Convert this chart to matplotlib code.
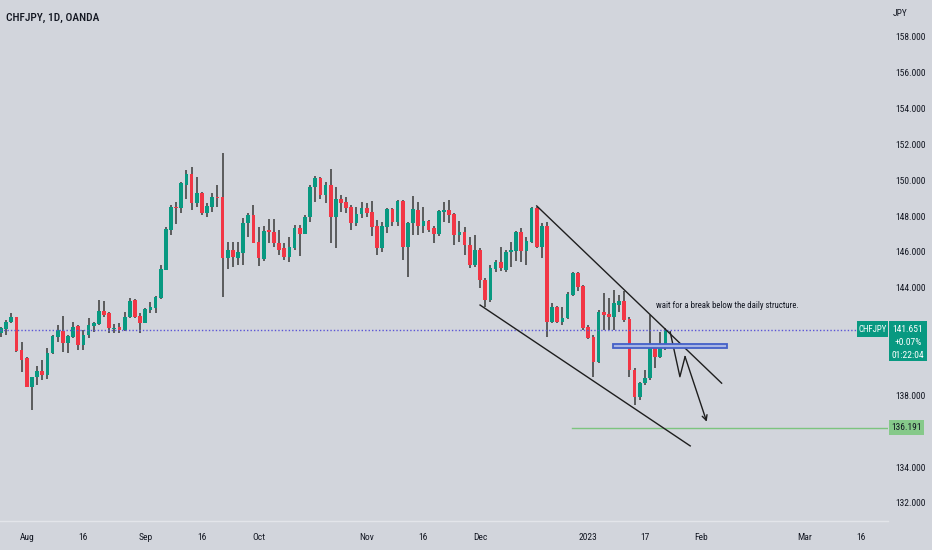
import numpy as np
import pandas as pd
import matplotlib
matplotlib.use("Agg")
import matplotlib.pyplot as plt
from matplotlib import font_manager
from matplotlib.patches import Rectangle

# the chart uses a narrow sans; take the narrowest one that is installed
fonts = font_manager.fontManager.ttflist
names = {f.name for f in fonts}
if 'Liberation Sans Narrow' in names:
    FONT, SCALE = 'Liberation Sans Narrow', 1.0
elif 'Roboto Condensed' in names:
    FONT, SCALE = 'Roboto Condensed', 1.0
elif any(f.name == 'DejaVu Sans' and f.stretch == 'condensed' for f in fonts):
    FONT, SCALE = 'DejaVu Sans', 0.9
    plt.rcParams['font.stretch'] = 'condensed'
else:
    FONT, SCALE = 'Liberation Sans', 0.9
plt.rcParams['font.family'] = [FONT, 'DejaVu Sans']

BG = '#d2d5dc'
GREEN = '#089981'
RED = '#f23645'
WICK = '#3a3a3a'
TXT = '#131722'

# daily bars, OANDA (no bar on Dec 26)
dates = pd.bdate_range('2022-07-25', '2023-03-31').drop(pd.Timestamp('2022-12-26'))

opens = [141.46, 141.69, 142.11, 142.36, 140.53, 140.07, 138.49, 139.01, 139.38, 139.14,
         140.35, 141.28, 141.61, 140.94, 141.28, 141.87, 140.81, 141.37, 141.87, 141.98,
         142.73, 142.58, 141.69, 141.80, 141.65, 142.36, 143.32, 142.43, 142.06, 142.77,
         142.86, 143.42, 145.00, 147.23, 148.53, 148.44, 149.74, 150.34, 148.72, 149.28,
         148.20, 148.53, 149.09, 149.09, 145.65, 146.11, 145.65, 145.93, 147.60, 148.07,
         146.58, 145.59, 147.23, 147.14, 146.52, 146.21, 145.70, 146.21, 147.32, 147.00,
         147.94, 149.65, 150.15, 149.18, 149.74, 147.97, 148.94, 148.77, 148.53, 147.64,
         148.12, 148.44, 148.25, 147.45, 146.21, 147.42, 148.38, 147.70, 148.87, 146.26,
         147.60, 148.35, 147.45, 147.73, 147.32, 146.99, 148.22, 148.36, 148.14, 146.95,
         147.14, 146.39, 145.28, 146.11, 144.44, 143.32, 145.05, 145.46, 145.00, 145.98,
         146.06, 147.10, 146.06, 146.58, 148.44, 146.30, 147.47, 142.11, 142.95, 142.11,
         142.32, 143.60, 144.80, 144.11, 141.84, 141.28, 139.88, 142.67, 142.54, 142.36,
         143.05, 143.29, 142.24, 139.42, 137.93, 138.67, 138.95, 140.68, 140.16, 140.76]
highs = [141.84, 142.21, 142.58, 142.39, 141.00, 140.16, 139.05, 139.64, 139.97, 140.63,
         141.37, 141.93, 142.43, 141.37, 142.11, 141.93, 141.65, 142.30, 142.11, 143.32,
         143.27, 142.67, 141.98, 142.02, 142.67, 143.42, 143.36, 142.58, 142.86, 143.23,
         143.55, 145.28, 147.42, 148.63, 148.81, 149.93, 150.58, 150.76, 150.21, 149.37,
         148.72, 149.28, 149.74, 151.51, 146.58, 146.58, 146.58, 147.88, 148.16, 148.63,
         147.38, 147.45, 147.83, 147.83, 147.23, 146.52, 146.86, 147.51, 147.51, 148.07,
         149.74, 150.24, 150.21, 149.93, 150.61, 149.65, 149.18, 149.09, 148.63, 148.53,
         148.81, 148.72, 148.85, 147.79, 147.70, 148.44, 148.44, 148.90, 148.90, 147.70,
         149.13, 148.81, 148.53, 147.79, 147.45, 148.35, 148.80, 148.90, 148.18, 147.73,
         147.42, 146.86, 146.95, 146.21, 144.53, 145.28, 145.56, 146.30, 146.11, 146.58,
         147.17, 147.32, 146.86, 148.53, 148.53, 147.60, 147.70, 143.18, 142.97, 142.95,
         143.79, 144.90, 144.86, 144.16, 141.93, 141.37, 142.77, 143.70, 143.42, 143.88,
         143.60, 143.85, 142.36, 139.51, 138.77, 139.42, 142.49, 140.81, 141.56, 141.74]
lows = [141.28, 141.37, 142.06, 140.44, 139.32, 138.45, 137.19, 138.58, 138.86, 138.90,
        140.33, 141.00, 140.44, 140.38, 141.18, 140.53, 140.53, 141.18, 141.56, 141.93,
        142.39, 141.46, 141.46, 141.46, 141.61, 142.30, 142.30, 141.46, 142.02, 142.58,
        142.58, 143.36, 145.00, 146.95, 147.55, 148.16, 148.94, 148.35, 148.53, 148.07,
        147.97, 148.25, 148.53, 143.51, 145.03, 145.18, 145.28, 145.28, 146.86, 146.49,
        145.22, 145.52, 146.49, 146.26, 145.83, 145.56, 145.46, 146.11, 145.78, 147.00,
        147.70, 148.81, 148.94, 148.72, 146.49, 146.21, 148.25, 148.20, 147.23, 147.45,
        147.88, 147.94, 146.90, 145.83, 146.02, 147.04, 147.45, 147.45, 145.56, 144.63,
        146.95, 146.95, 147.08, 147.14, 146.52, 146.90, 147.70, 147.60, 146.39, 146.58,
        145.83, 145.09, 145.18, 143.97, 142.95, 143.23, 144.90, 144.94, 144.90, 145.18,
        145.50, 145.46, 145.28, 146.49, 146.21, 145.65, 141.25, 142.02, 142.02, 141.93,
        142.25, 143.53, 143.85, 141.65, 141.13, 139.05, 139.79, 141.65, 141.65, 141.65,
        142.67, 142.11, 139.05, 137.47, 137.74, 138.58, 138.86, 139.51, 140.07, 140.54]
closes = [141.74, 142.11, 142.39, 140.50, 139.97, 138.49, 139.03, 139.38, 139.16, 140.38,
          141.31, 141.65, 140.91, 141.31, 141.84, 140.81, 141.37, 141.93, 142.06, 142.73,
          142.49, 141.74, 141.74, 141.65, 142.39, 143.27, 142.39, 142.06, 142.80, 142.91,
          143.51, 145.03, 147.27, 148.53, 148.44, 149.83, 150.34, 148.72, 149.28, 148.16,
          148.57, 149.09, 149.03, 145.65, 146.11, 145.70, 146.02, 147.64, 148.07, 146.52,
          145.65, 147.19, 147.10, 146.49, 146.11, 145.70, 146.30, 147.32, 147.00, 147.97,
          149.65, 150.15, 149.18, 149.74, 147.97, 148.94, 148.72, 148.44, 147.64, 148.12,
          148.44, 148.20, 147.42, 146.21, 147.45, 148.38, 147.70, 148.87, 146.26, 147.60,
          148.38, 147.45, 147.73, 147.23, 146.99, 148.29, 148.36, 148.07, 146.95, 147.14,
          146.39, 145.28, 146.11, 144.44, 143.32, 145.13, 145.46, 145.09, 146.02, 146.11,
          147.10, 146.06, 146.62, 148.44, 146.30, 147.47, 142.11, 142.95, 142.11, 142.32,
          143.65, 144.81, 144.02, 141.74, 141.19, 139.88, 142.67, 142.49, 142.36, 143.14,
          143.29, 142.21, 139.42, 137.93, 138.71, 138.95, 140.63, 140.16, 140.81, 141.651]

tick_dates = ['2022-08-01', '2022-08-16', '2022-09-01', '2022-09-16', '2022-10-03',
              '2022-11-01', '2022-11-16', '2022-12-01', '2023-01-02', '2023-01-17',
              '2023-02-01', '2023-03-01', '2023-03-16']
tick_labels = ['Aug', '16', 'Sep', '16', 'Oct', 'Nov', '16', 'Dec', '2023', '17',
               'Feb', 'Mar', '16']
price_ticks = np.arange(132, 159, 2)
hidden_ticks = [136, 140, 142]   # covered by the price labels

last_price = 141.651
last_change = '+0.07%'
countdown = '01:22:04'
target = 136.191

# drawings: (bar position, price)
upper_x, upper_y = [104.0, 139.9], [148.57, 138.68]
lower_x, lower_y = [93.0, 133.8], [143.04, 135.18]
zig_x = [129.9, 131.8, 132.8, 137.0]
zig_y = [141.55, 139.04, 140.16, 136.53]
zone_x, zone_y = [118.9, 141.0], [140.63, 140.87]
target_start = 110.9
note_x, note_y = 127.2, 142.99
note = 'wait for a break below the daily structure.'

# ---------------------------------------------------------------
fig = plt.figure(figsize=(9.32, 5.5), dpi=100, facecolor=BG)
ax = fig.add_axes([0, 29 / 550, 888 / 932, 521 / 550])
ax.set_facecolor(BG)

o = np.array(opens); h = np.array(highs); l = np.array(lows); c = np.array(closes)
x = np.arange(len(o))
up = c >= o
cols = np.where(up, GREEN, RED)
ax.vlines(x, l, h, color=WICK, linewidth=1.1, zorder=2)
body = np.maximum(np.abs(c - o), 0.04)
ax.bar(x, body, bottom=np.minimum(o, c), width=0.72, color=cols, linewidth=0, zorder=3)

ax.axhline(last_price, color='#5b55d6', linestyle=(0, (1, 1.5)), linewidth=1, zorder=4)

ax.plot(upper_x, upper_y, color='#1e1e1e', linewidth=1, zorder=5)
ax.plot(lower_x, lower_y, color='#1e1e1e', linewidth=1, zorder=5)
ax.plot(zig_x[:-1], zig_y[:-1], color='#1e1e1e', linewidth=1, zorder=5)
ax.annotate('', xy=(zig_x[-1], zig_y[-1]), xytext=(zig_x[-2], zig_y[-2]),
            arrowprops=dict(arrowstyle='->', color='#1e1e1e', lw=1, mutation_scale=9,
                            shrinkA=0, shrinkB=0), zorder=5)
ax.add_patch(Rectangle((zone_x[0], zone_y[0]), zone_x[1] - zone_x[0], zone_y[1] - zone_y[0],
                       facecolor='#a8b5e4', edgecolor='#4460c8', linewidth=1.3, zorder=5))
ax.plot([target_start, 500], [target, target], color='#7cc47f', linewidth=1, zorder=4)
ax.text(note_x, note_y, note, fontsize=6.3 * SCALE, color=TXT, va='center', ha='left', zorder=6)

ax.set_xlim(-0.2, 172.2)
ax.set_ylim(130.99, 160.06)

pos = [dates.get_loc(pd.Timestamp(d)) for d in tick_dates]
ax.set_xticks(pos, tick_labels)
ax.yaxis.tick_right()
ax.set_yticks(price_ticks, ['' if v in hidden_ticks else f'{v:.3f}' for v in price_ticks])
ax.tick_params(axis='x', length=0, pad=9, labelsize=6.8 * SCALE, labelcolor=TXT)
ax.tick_params(axis='y', length=0, pad=5, labelsize=6.8 * SCALE, labelcolor=TXT)
for t in ax.get_yticklabels():
    t.set_horizontalalignment('left')
for s in ['top', 'left', 'right']:
    ax.spines[s].set_visible(False)
ax.spines['bottom'].set_color('#e3e5ea')
ax.spines['bottom'].set_linewidth(1)

# labels on the price scale
yt = ax.get_yaxis_transform()
px = 1 / 888
ppu = 17.92  # pixels per price unit
ax.add_patch(Rectangle((1 - 31 * px, last_price - 7.5 / ppu), 31 * px, 16 / ppu, transform=yt,
                       facecolor=GREEN, edgecolor='none', clip_on=False, zorder=8))
ax.text(1 - 15.5 * px, last_price, 'CHFJPY', transform=yt, color='white', fontsize=6.4 * SCALE,
        ha='center', va='center', clip_on=False, zorder=9)
top = last_price + 8.5 / ppu
ax.add_patch(Rectangle((1 + 1 * px, top - 40 / ppu), 38 * px, 40 / ppu, transform=yt,
                       facecolor=GREEN, edgecolor='none', clip_on=False, zorder=8))
for i, s in enumerate([f'{last_price:.3f}', last_change, countdown]):
    ax.text(1 + 20 * px, top - (8.5 + 13 * i) / ppu, s, transform=yt, color='white',
            fontsize=6.8 * SCALE, ha='center', va='center', clip_on=False, zorder=9)
ax.add_patch(Rectangle((1 + 1 * px, target - 7.5 / ppu), 35 * px, 15.5 / ppu, transform=yt,
                       facecolor='#86c98a', edgecolor='none', clip_on=False, zorder=8))
ax.text(1 + 18.5 * px, target, f'{target:.3f}', transform=yt, color=TXT, fontsize=6.8 * SCALE,
        ha='center', va='center', clip_on=False, zorder=9)

fig.text(893 / 932, 1 - 14 / 550, 'JPY', fontsize=6.8 * SCALE, color=TXT, ha='left', va='center')
fig.text(6 / 932, 1 - 18 / 550, 'CHFJPY, 1D, OANDA', fontsize=8.2 * SCALE, color=TXT,
         fontweight='medium', ha='left', va='center')

fig.savefig('out.png', dpi=100, facecolor=BG)
